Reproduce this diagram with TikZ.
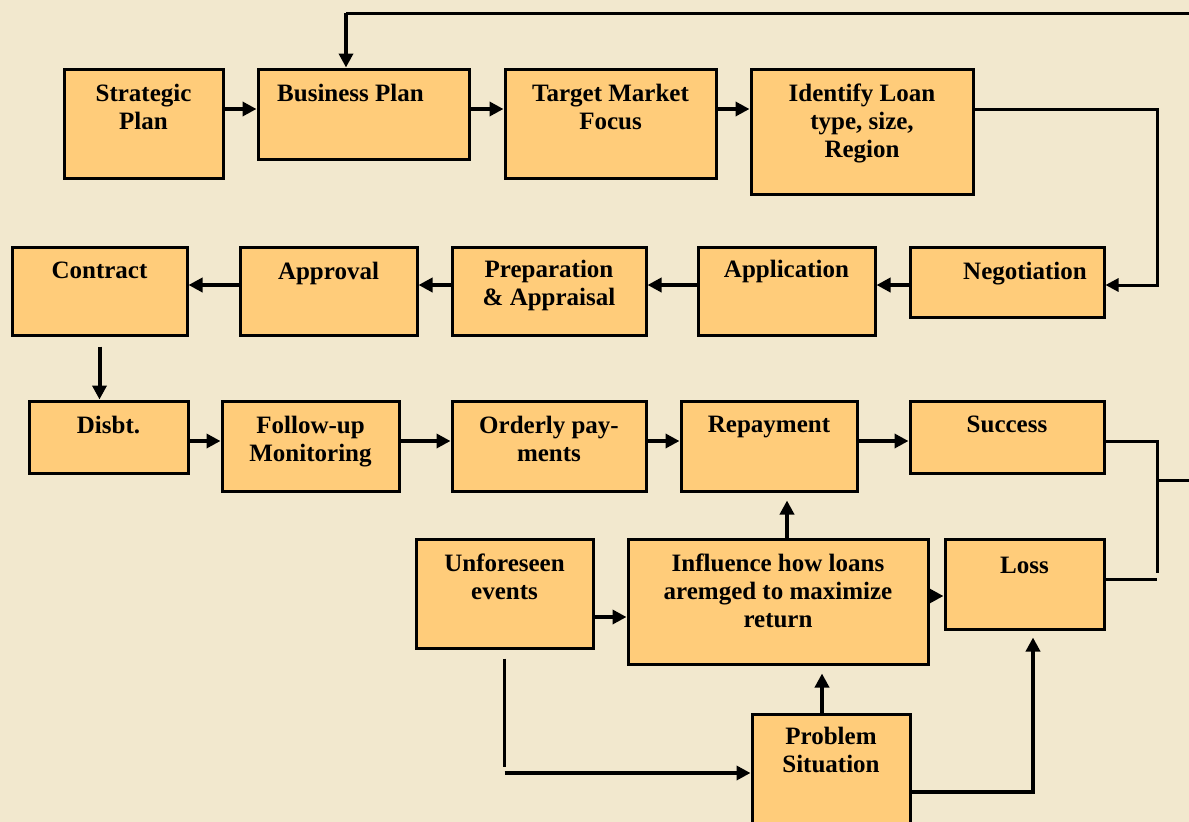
\documentclass[tikz,border=0pt]{standalone}
\usepackage{fontspec}
\setmainfont{Liberation Serif}
\usetikzlibrary{arrows.meta}
\definecolor{bgcream}{RGB}{242,232,206}
\definecolor{boxorange}{RGB}{255,204,122}
\begin{document}
\begin{tikzpicture}[x=1pt,y=-1pt,
  box/.style={draw=black, fill=boxorange, line width=3pt, inner sep=0pt},
  boxtext/.style={anchor=north, yshift=-16pt, inner sep=0pt, align=center,
    font=\fontsize{25}{28}\selectfont\bfseries},
  link/.style={line width=3pt},
  arr/.style={line width=4pt, -{Triangle[length=14pt,width=14pt]}}]
  \fill[bgcream] (0,0) rectangle (1189,822);
  \useasboundingbox (0,0) rectangle (1189,822);
  \coordinate (loopin) at (1189,13);
  \coordinate (branch) at (1189,480);
  % planning row
  \node[box, minimum width=159, minimum height=109, label={[boxtext]north:{Strategic\\Plan}}] (strat) at (143.5,123.5) {};
  \node[box, minimum width=211, minimum height=90, label={[boxtext, xshift=-13pt]north:{Business Plan}}] (bus) at (363.5,114) {};
  \node[box, minimum width=211, minimum height=109, label={[boxtext]north:{Target Market\\Focus}}] (target) at (610.5,123.5) {};
  \node[box, minimum width=222, minimum height=125, label={[boxtext]north:{Identify Loan\\type, size,\\Region}}] (ident) at (862,131.5) {};
  % processing row
  \node[box, minimum width=175, minimum height=88, label={[boxtext]north:{Contract}}] (contract) at (99.5,291) {};
  \node[box, minimum width=177, minimum height=88, label={[boxtext]north:{Approval}}] (approval) at (328.5,291) {};
  \node[box, minimum width=194, minimum height=88, label={[boxtext, yshift=2pt]north:{Preparation\\\& Appraisal}}] (prep) at (549,291) {};
  \node[box, minimum width=177, minimum height=88, label={[boxtext, yshift=2pt]north:{Application}}] (appl) at (786.5,291) {};
  \node[box, minimum width=194, minimum height=70, label={[boxtext, xshift=18pt]north:{Negotiation}}] (nego) at (1007,282) {};
  % repayment row
  \node[box, minimum width=159, minimum height=72, label={[boxtext]north:{Disbt.}}] (disbt) at (108.5,437) {};
  \node[box, minimum width=177, minimum height=90, label={[boxtext]north:{Follow-up\\Monitoring}}] (follow) at (310.5,446) {};
  \node[box, minimum width=194, minimum height=90, label={[boxtext]north:{Orderly pay-\\ments}}] (orderly) at (549,446) {};
  \node[box, minimum width=176, minimum height=90, label={[boxtext]north:{Repayment}}] (repay) at (769,446) {};
  \node[box, minimum width=194, minimum height=72, label={[boxtext]north:{Success}}] (success) at (1007,437) {};
  % problem part
  \node[box, minimum width=177, minimum height=109, label={[boxtext]north:{Unforeseen\\events}}] (unfore) at (504.5,593.5) {};
  \node[box, minimum width=300, minimum height=125, label={[boxtext]north:{Influence how loans\\aremged to maximize\\return}}] (infl) at (778,601.5) {};
  \node[box, minimum width=159, minimum height=90, label={[boxtext, yshift=-3pt]north:{Loss}}] (loss) at (1024.5,584) {};
  \node[box, minimum width=158, minimum height=116, label={[boxtext, yshift=2pt]north:{Problem\\Situation}}] (problem) at (831,772) {};
  % connectors
  \draw[arr] (strat.east |- 0,109) -- (bus.west |- 0,109);
  \draw[arr] (bus.east |- 0,109) -- (target.west |- 0,109);
  \draw[arr] (target.east |- 0,109) -- (ident.west |- 0,109);
  \draw[link] (loopin) -- (346,13);
  \draw[arr] (346,13) -- (bus.north -| 346,0);
  \draw[link, -{Triangle[length=13pt,width=13pt]}] (ident.east |- 0,109) -| (1157,285) -- (nego.east |- 0,285);
  \draw[arr] (nego.west |- 0,285) -- (appl.east |- 0,285);
  \draw[arr] (appl.west |- 0,285) -- (prep.east |- 0,285);
  \draw[arr] (prep.west |- 0,285) -- (approval.east |- 0,285);
  \draw[arr] (approval.west |- 0,285) -- (contract.east |- 0,285);
  \draw[arr] ([yshift=-10pt]contract.south) -- (contract.south |- disbt.north);
  \draw[arr] (disbt.east |- 0,441) -- (follow.west |- 0,441);
  \draw[arr] (follow.east |- 0,441) -- (orderly.west |- 0,441);
  \draw[arr] (orderly.east |- 0,441) -- (repay.west |- 0,441);
  \draw[arr] (repay.east |- 0,441) -- (success.west |- 0,441);
  \draw[link] (success.east |- 0,441) -| (1157,573);
  \draw[link] (loss.east |- 0,579) -- (1157,579);
  \draw[link] (1157,480) -- (branch);
  \draw[arr] (infl.north -| 787,0) -- ++(0,-37);
  \draw[arr] (unfore.east |- 0,617) -- (infl.west |- 0,617);
  \draw[arr] (infl.east |- 0,596) -- (loss.west |- 0,596);
  \draw[link] ([yshift=-9pt]unfore.south) -- ++(0,108);
  \draw[arr] (unfore.south |- 0,773) -- (problem.west |- 0,773);
  \draw[arr] (problem.north -| 822,0) -- ++(0,-39);
  \draw[arr] (problem.east |- 0,792) -| ([yshift=-7pt]loss.south -| 1033,0);
\end{tikzpicture}
\end{document}
